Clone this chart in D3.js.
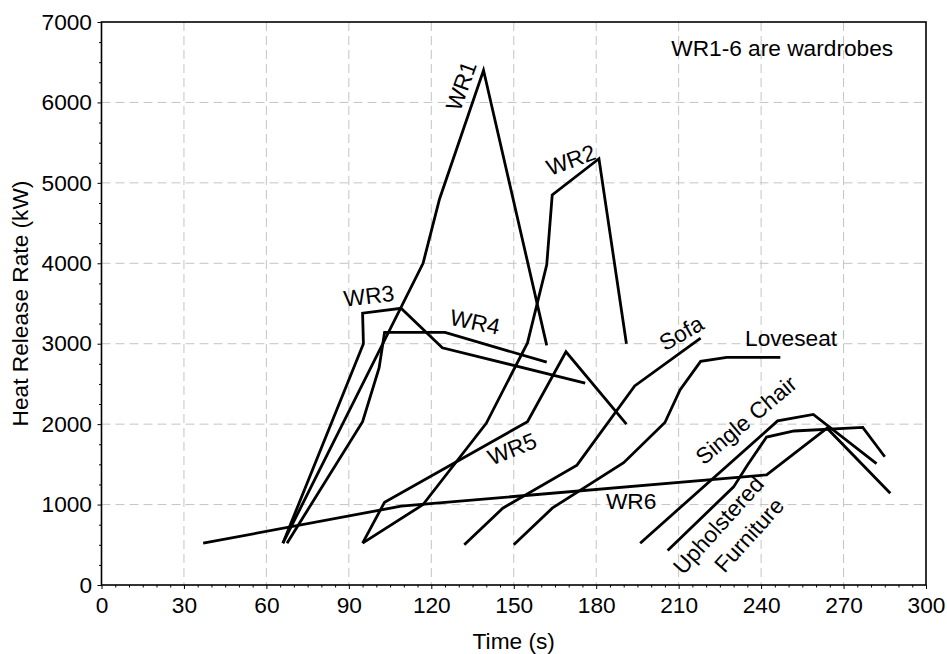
<!DOCTYPE html>
<html>
<head>
<meta charset="utf-8">
<script src="https://cdn.jsdelivr.net/npm/d3@7"></script>
<style>
  html, body { margin: 0; padding: 0; background: #fff; }
  svg { display: block; font-family: "Liberation Sans", Arial, sans-serif; }
</style>
</head>
<body>
<svg id="chart" width="947" height="654"></svg>
<script>
// ---- data (time in s, heat release rate in kW) ----
const wr1T = [66, 117, 123, 139, 162];
const wr1V = [520, 4000, 4800, 6400, 2980];
const wr2T = [95, 117, 140, 155, 162, 164, 181, 191];
const wr2V = [520, 1000, 2010, 3010, 3980, 4850, 5300, 3000];
const wr3T = [66, 95.3, 95, 109, 124, 176];
const wr3V = [520, 3000, 3380, 3440, 2950, 2510];
const wr4T = [67.5, 95, 101, 103, 125, 162];
const wr4V = [520, 2030, 2700, 3140, 3140, 2770];
const wr5T = [95, 103, 155, 169, 191];
const wr5V = [520, 1030, 2030, 2900, 2000];
const wr6T = [37, 109, 242, 264, 287];
const wr6V = [520, 980, 1370, 1950, 1140];
const sofaT = [132, 146, 173, 194, 218];
const sofaV = [500, 955, 1490, 2475, 3070];
const loveseatT = [150, 164, 190, 205, 210.5, 218, 227.5, 247];
const loveseatV = [500, 955, 1520, 2020, 2425, 2780, 2830, 2830];
const chairT = [196, 246, 259, 282];
const chairV = [520, 2040, 2120, 1510];
const upholT = [206, 230, 235, 242, 252, 277, 285];
const upholV = [430, 1220, 1490, 1840, 1915, 1960, 1595];

const seriesNames = ["WR1", "WR2", "WR3", "WR4", "WR5", "WR6", "Sofa", "Loveseat", "Single Chair", "Upholstered Furniture"];
const seriesT = [wr1T, wr2T, wr3T, wr4T, wr5T, wr6T, sofaT, loveseatT, chairT, upholT];
const seriesV = [wr1V, wr2V, wr3V, wr4V, wr5V, wr6V, sofaV, loveseatV, chairV, upholV];

// curve labels: text, time, value, rotation
const labelText = ["WR1", "WR2", "WR3", "WR4", "WR5", "WR6", "Sofa", "Loveseat", "Single Chair", "Upholstered", "Furniture"];
const labelT = [130.8, 170.8, 97.3, 135.9, 149.4, 192.7, 210.9, 250.9, 234.5, 224.4, 235.6];
const labelV = [6206, 5286, 3595, 3271, 1692, 1045, 3134, 3072, 2052, 746, 622];
const labelRot = [-70, -20, -7, 12, -22, 0, -30, 0, -40, -48, -48];

const xTicks = [0, 30, 60, 90, 120, 150, 180, 210, 240, 270, 300];
const yTicks = [0, 1000, 2000, 3000, 4000, 5000, 6000, 7000];
const xTitle = "Time (s)";
const yTitle = "Heat Release Rate (kW)";
const noteText = "WR1-6 are wardrobes";

// ---- layout ----
const W = 947, H = 654;
const m = { left: 101.5, top: 22, right: 21, bottom: 69 };
const iw = W - m.left - m.right, ih = H - m.top - m.bottom;
const FS = 22.7;

const svg = d3.select("#chart");
const g = svg.append("g").attr("transform", `translate(${m.left},${m.top})`);

const x = d3.scaleLinear().domain([0, 300]).range([0, iw]);
const y = d3.scaleLinear().domain([0, 7000]).range([ih, 0]);

// grid
g.append("g").selectAll("line").data(xTicks.filter(d => d > 0 && d < 300)).join("line")
  .attr("x1", d => x(d)).attr("x2", d => x(d)).attr("y1", 0).attr("y2", ih)
  .attr("stroke", "#c4c4c4").attr("stroke-width", 1).attr("stroke-dasharray", "9,5");
g.append("g").selectAll("line").data(yTicks.filter(d => d > 0 && d < 7000)).join("line")
  .attr("y1", d => y(d)).attr("y2", d => y(d)).attr("x1", 0).attr("x2", iw)
  .attr("stroke", "#c4c4c4").attr("stroke-width", 1).attr("stroke-dasharray", "9,5");

// minor ticks
const xMinor = d3.range(0, 301, 5).filter(d => d % 30 !== 0);
const yMinor = d3.range(0, 7001, 250).filter(d => d % 1000 !== 0);
g.append("g").attr("transform", `translate(0,${ih})`)
  .call(d3.axisBottom(x).tickValues(xMinor).tickSize(2.5).tickFormat(""))
  .call(s => s.select(".domain").remove())
  .selectAll("line").attr("stroke", "#000");
g.append("g")
  .call(d3.axisLeft(y).tickValues(yMinor).tickSize(2.5).tickFormat(""))
  .call(s => s.select(".domain").remove())
  .selectAll("line").attr("stroke", "#000");

// major axes
const xAxis = g.append("g").attr("transform", `translate(0,${ih})`)
  .call(d3.axisBottom(x).tickValues(xTicks).tickSize(4).tickPadding(8).tickFormat(d3.format("d")));
const yAxis = g.append("g")
  .call(d3.axisLeft(y).tickValues(yTicks).tickSize(4).tickPadding(5.5).tickFormat(d3.format("d")));
[xAxis, yAxis].forEach(a => {
  a.select(".domain").remove();
  a.selectAll("line").attr("stroke", "#000");
  a.selectAll("text").attr("font-size", FS).attr("fill", "#000")
    .attr("font-family", "'Liberation Sans', Arial, sans-serif");
});

// frame
g.append("rect").attr("x", 0).attr("y", 0).attr("width", iw).attr("height", ih)
  .attr("fill", "none").attr("stroke", "#000").attr("stroke-width", 1.6);

// series lines
const line = d3.line().x(d => x(d[0])).y(d => y(d[1]));
seriesT.forEach((ts, i) => {
  const pts = ts.map((t, j) => [t, seriesV[i][j]]);
  g.append("path").datum(pts).attr("d", line)
    .attr("class", "series").attr("data-name", seriesNames[i])
    .attr("fill", "none").attr("stroke", "#000").attr("stroke-width", 2.8)
    .attr("stroke-linejoin", "miter").attr("stroke-linecap", "butt");
});

// curve labels
labelText.forEach((txt, i) => {
  g.append("text")
    .attr("transform", `translate(${x(labelT[i])},${y(labelV[i])}) rotate(${labelRot[i]})`)
    .attr("text-anchor", "middle").attr("dominant-baseline", "central")
    .attr("font-size", FS).attr("fill", "#000").text(txt);
});

// note
g.append("text").attr("x", x(207.3)).attr("y", y(6580))
  .attr("font-size", FS).attr("fill", "#000").text(noteText);

// axis titles
svg.append("text").attr("x", m.left + iw / 2).attr("y", 649)
  .attr("text-anchor", "middle").attr("font-size", FS).text(xTitle);
svg.append("text").attr("transform", `translate(28,${m.top + ih / 2}) rotate(-90)`)
  .attr("text-anchor", "middle").attr("font-size", FS).text(yTitle);
</script>
</body>
</html>
